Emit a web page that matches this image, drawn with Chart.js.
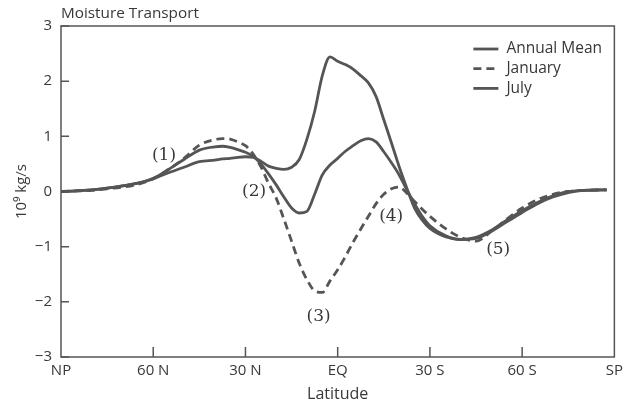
<!DOCTYPE html>
<html>
<head>
<meta charset="utf-8">
<script src="https://cdn.jsdelivr.net/npm/chart.js@4.4.1/dist/chart.umd.min.js"></script>
<style>
    html, body { margin: 0; padding: 0; background: #fff; }
</style>
</head>
<body>
<canvas id="moistureChart" width="628" height="405"></canvas>
<script>
// latitude grid (positive = north), shared by all series
const latitudes = [90, 85, 80, 75, 70, 65, 60, 55, 50, 45,
    40, 37.5, 35, 32.5, 30, 27.5, 25, 22.5, 20, 17.5,
    15, 12.5, 10, 7.5, 5, 2.5, 0, -2.5, -5, -7.5,
    -10, -12.5, -15, -17.5, -20, -22.5, -25, -27.5, -30, -35,
    -40, -45, -50, -55, -60, -65, -70, -75, -80, -87.5];

const annualMean = [0, 0.01, 0.03, 0.06, 0.1, 0.15, 0.24, 0.4, 0.58, 0.75,
    0.81, 0.82, 0.8, 0.76, 0.71, 0.64, 0.5, 0.32, 0.12, -0.1,
    -0.3, -0.39, -0.36, -0.05, 0.3, 0.48, 0.6, 0.73, 0.83, 0.92,
    0.96, 0.9, 0.72, 0.52, 0.3, 0.03, -0.22, -0.45, -0.62, -0.8,
    -0.87, -0.85, -0.72, -0.55, -0.38, -0.22, -0.1, -0.02, 0.02, 0.03];

const january = [0, 0.01, 0.02, 0.05, 0.08, 0.13, 0.23, 0.4, 0.6, 0.84,
    0.94, 0.96, 0.95, 0.9, 0.83, 0.68, 0.45, 0.15, -0.12, -0.5,
    -0.9, -1.3, -1.6, -1.8, -1.83, -1.62, -1.42, -1.18, -0.92, -0.68,
    -0.45, -0.22, -0.05, 0.05, 0.08, -0.03, -0.18, -0.32, -0.45, -0.67,
    -0.83, -0.9, -0.72, -0.5, -0.3, -0.15, -0.05, 0, 0.02, 0.03];

const july = [0, 0.01, 0.03, 0.06, 0.1, 0.15, 0.23, 0.34, 0.44, 0.54,
    0.57, 0.59, 0.6, 0.62, 0.63, 0.62, 0.55, 0.46, 0.42, 0.4,
    0.44, 0.58, 0.95, 1.45, 2.1, 2.44, 2.36, 2.3, 2.22, 2.1,
    1.97, 1.72, 1.3, 0.88, 0.45, 0.06, -0.3, -0.52, -0.67, -0.82,
    -0.87, -0.83, -0.7, -0.52, -0.35, -0.2, -0.08, 0, 0.02, 0.03];

const xTickValues = [90, 60, 30, 0, -30, -60, -90];
const xTickLabels = ['NP', '60 N', '30 N', 'EQ', '30 S', '60 S', 'SP'];
const seriesNames = ['Annual Mean', 'January', 'July'];

// numbered notes placed at (latitude, value)
const noteTexts = ['(1)', '(2)', '(3)', '(4)', '(5)'];
const noteLats = [56.5, 27.2, 6.2, -17.4, -52.2];
const noteValues = [0.66, 0, -2.27, -0.46, -1.05];

const lineColor = '#555555';
const textColor = '#383838';
const sansFont = '"Open Sans", "DejaVu Sans", sans-serif';

function toPoints(values) {
    return values.map((v, i) => ({ x: latitudes[i], y: v }));
}

const framePlugin = {
    id: 'frame',
    afterDraw(chart) {
        const { ctx, chartArea: a, scales: { x, y } } = chart;
        ctx.save();

        // box and inward ticks
        ctx.strokeStyle = lineColor;
        ctx.lineWidth = 1.5;
        ctx.strokeRect(a.left, a.top, a.right - a.left, a.bottom - a.top);
        ctx.beginPath();
        xTickValues.slice(1, -1).forEach(v => {
            const px = x.getPixelForValue(v);
            ctx.moveTo(px, a.bottom);
            ctx.lineTo(px, a.bottom - 10);
        });
        y.ticks.forEach(t => {
            const py = y.getPixelForValue(t.value);
            ctx.moveTo(a.left, py);
            ctx.lineTo(a.left + 8, py);
        });
        ctx.stroke();

        // title
        ctx.fillStyle = textColor;
        ctx.font = '15.3px ' + sansFont;
        ctx.textAlign = 'left';
        ctx.textBaseline = 'middle';
        ctx.fillText('Moisture Transport', a.left, 14);

        // legend in the upper right corner
        const lx = a.right - 141;
        const ly = a.top + 23;
        ctx.font = '15.5px ' + sansFont;
        chart.data.datasets.forEach((ds, i) => {
            const yy = ly + i * 19.7;
            ctx.strokeStyle = ds.borderColor;
            ctx.lineWidth = ds.borderWidth;
            ctx.setLineDash(ds.borderDash || []);
            ctx.beginPath();
            ctx.moveTo(lx, yy);
            ctx.lineTo(lx + 25, yy);
            ctx.stroke();
            ctx.setLineDash([]);
            ctx.fillText(ds.label, lx + 33, yy);
        });

        // numbered notes
        ctx.font = '17px "DejaVu Serif", serif';
        ctx.textAlign = 'center';
        noteTexts.forEach((txt, i) => {
            ctx.fillText(txt, x.getPixelForValue(noteLats[i]), y.getPixelForValue(noteValues[i]));
        });

        ctx.restore();
    }
};

const ctx = document.getElementById('moistureChart').getContext('2d');
new Chart(ctx, {
    type: 'line',
    data: {
        datasets: [
            { label: seriesNames[0], data: toPoints(annualMean) },
            { label: seriesNames[1], data: toPoints(january), borderDash: [8, 5] },
            { label: seriesNames[2], data: toPoints(july) }
        ].map(ds => Object.assign({
            borderColor: lineColor,
            borderWidth: 2.8,
            pointRadius: 0,
            fill: false,
            cubicInterpolationMode: 'monotone'
        }, ds))
    },
    options: {
        responsive: false,
        animation: false,
        layout: { padding: { top: 26, right: 9, left: 0, bottom: 0 } },
        plugins: {
            legend: { display: false },
            tooltip: { enabled: false }
        },
        scales: {
            x: {
                type: 'linear',
                min: -90,
                max: 90,
                reverse: true,
                afterBuildTicks: scale => {
                    scale.ticks = xTickValues.map(v => ({ value: v }));
                },
                afterFit: scale => { scale.height = 48; },
                ticks: {
                    autoSkip: false,
                    maxRotation: 0,
                    padding: 5,
                    color: textColor,
                    font: { family: sansFont, size: 15 },
                    callback: v => xTickLabels[xTickValues.indexOf(v)]
                },
                grid: { display: false, drawTicks: false },
                border: { display: false },
                title: {
                    display: true,
                    text: 'Latitude',
                    color: textColor,
                    font: { family: sansFont, size: 16 },
                    padding: { top: 0, bottom: 1 }
                }
            },
            y: {
                min: -3,
                max: 3,
                afterFit: scale => { scale.width = 61; },
                ticks: {
                    stepSize: 1,
                    padding: 9,
                    color: textColor,
                    font: { family: sansFont, size: 15 },
                    callback: v => String(v).replace('-', '\u2212')
                },
                grid: { display: false, drawTicks: false },
                border: { display: false },
                title: {
                    display: true,
                    text: '10\u2079 kg/s',
                    color: textColor,
                    font: { family: sansFont, size: 15 },
                    padding: { top: 13, bottom: 0 }
                }
            }
        }
    },
    plugins: [framePlugin]
});
</script>
</body>
</html>
